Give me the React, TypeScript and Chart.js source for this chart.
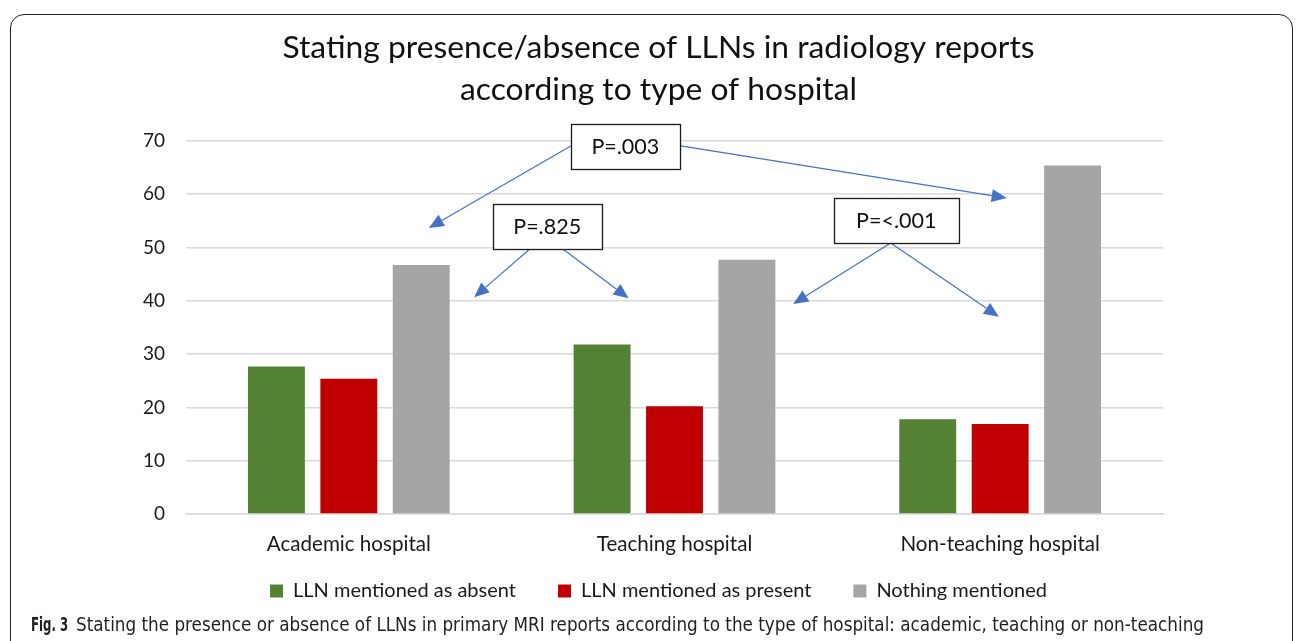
import React, { useEffect, useRef } from "react";
import { Chart, registerables } from "chart.js";

Chart.register(...registerables);

const categories = ["Academic hospital", "Teaching hospital", "Non-teaching hospital"];
const absentValues = [27.7, 31.8, 17.8];
const presentValues = [25.4, 20.2, 16.9];
const nothingValues = [46.7, 47.7, 65.4];
const seriesLabels = ["LLN mentioned as absent", "LLN mentioned as present", "Nothing mentioned"];
const yMax = 70;
const yStep = 10;

// annotation boxes: x = fractional category index, y = value
const pBoxes = [
  { label: "P=.003", x: 0.849, y: 68.97, w: 109, h: 45 },
  { label: "P=.825", x: 0.609, y: 53.95, w: 109, h: 45 },
  { label: "P=<.001", x: 1.681, y: 55.08, w: 125, h: 45 },
];
const pArrows = [
  { from: [0.6815, 69.06], to: [0.2456, 53.67] },
  { from: [1.0192, 69.06], to: [2.02, 59.3] },
  { from: [0.5556, 49.73], to: [0.385, 40.67] },
  { from: [0.657, 49.73], to: [0.859, 40.48] },
  { from: [1.6638, 50.86], to: [1.3645, 39.4] },
  { from: [1.6638, 50.86], to: [1.996, 37.0] },
];

const FONT = "Lato, 'Open Sans', sans-serif";

// keep tick labels from being clipped to the (narrowed) axis boxes
const unclipPlugin = {
  id: "unclipAxes",
  afterLayout(chart: any) {
    const { x, y } = chart.scales;
    if (y) y.left = y.right - 80;
    if (x) x.bottom = x.top + 60;
  },
};

const annotationPlugin = {
  id: "pAnnotations",
  afterDatasetsDraw(chart: any) {
    const { ctx, scales } = chart;
    const xs = scales.x;
    const ys = scales.y;
    ctx.save();
    ctx.strokeStyle = "#4472C4";
    ctx.fillStyle = "#4472C4";
    ctx.lineWidth = 1.2;
    for (const a of pArrows) {
      const x1 = xs.getPixelForValue(a.from[0]);
      const y1 = ys.getPixelForValue(a.from[1]);
      const x2 = xs.getPixelForValue(a.to[0]);
      const y2 = ys.getPixelForValue(a.to[1]);
      const ang = Math.atan2(y2 - y1, x2 - x1);
      const len = 15;
      const hw = 6.5;
      const bx = x2 - Math.cos(ang) * len;
      const by = y2 - Math.sin(ang) * len;
      ctx.beginPath();
      ctx.moveTo(x1, y1);
      ctx.lineTo(bx, by);
      ctx.stroke();
      ctx.beginPath();
      ctx.moveTo(x2, y2);
      ctx.lineTo(bx + Math.sin(ang) * hw, by - Math.cos(ang) * hw);
      ctx.lineTo(bx - Math.sin(ang) * hw, by + Math.cos(ang) * hw);
      ctx.closePath();
      ctx.fill();
    }
    for (const b of pBoxes) {
      const cx = xs.getPixelForValue(b.x);
      const cy = ys.getPixelForValue(b.y);
      const left = Math.round(cx - b.w / 2) + 0.5;
      const top = Math.round(cy - b.h / 2) + 0.5;
      ctx.fillStyle = "#ffffff";
      ctx.fillRect(left, top, b.w, b.h);
      ctx.strokeStyle = "#1a1a1a";
      ctx.lineWidth = 1.3;
      ctx.strokeRect(left, top, b.w, b.h);
      ctx.fillStyle = "#111111";
      ctx.font = `21.5px ${FONT}`;
      ctx.textAlign = "center";
      ctx.textBaseline = "middle";
      ctx.fillText(b.label, cx, cy + 1);
    }
    ctx.restore();
  },
};

export default function App() {
  const canvasRef = useRef<HTMLCanvasElement | null>(null);

  useEffect(() => {
    if (!canvasRef.current) return;
    const chart = new Chart(canvasRef.current, {
      type: "bar",
      data: {
        labels: categories,
        datasets: [
          { label: seriesLabels[0], data: absentValues, backgroundColor: "#548235" },
          { label: seriesLabels[1], data: presentValues, backgroundColor: "#C00000" },
          { label: seriesLabels[2], data: nothingValues, backgroundColor: "#A5A5A5" },
        ],
      },
      options: {
        animation: false,
        responsive: false,
        maintainAspectRatio: false,
        layout: { padding: { top: 27, left: 154, right: 137, bottom: 30 } },
        datasets: { bar: { categoryPercentage: 0.667, barPercentage: 0.786 } },
        scales: {
          x: {
            grid: { display: false },
            border: { display: true, color: "#D9D9D9", width: 1.5 },
            ticks: { color: "#1a1a1a", font: { family: FONT, size: 20.6 }, padding: 10 },
            afterFit: (s: any) => { s.height = 25; },
          },
          y: {
            min: 0,
            max: yMax,
            grid: { color: "#D9D9D9", lineWidth: 1.5, drawTicks: false },
            border: { display: false },
            ticks: { stepSize: yStep, color: "#1a1a1a", font: { family: FONT, size: 19 }, padding: 21 },
            afterFit: (s: any) => { s.width = 32; },
          },
        },
        plugins: {
          title: {
            display: true,
            text: ["Stating presence/absence of LLNs in radiology reports", "according to type of hospital"],
            color: "#111111",
            font: { family: FONT, size: 31.8, weight: "normal", lineHeight: 1.32 },
            padding: { top: 0, bottom: 30 },
          },
          legend: {
            position: "bottom",
            labels: {
              color: "#1a1a1a",
              font: { family: FONT, size: 20 },
              boxWidth: 13,
              boxHeight: 13,
              padding: 42,
            },
          },
          tooltip: { enabled: false },
        },
      },
      plugins: [unclipPlugin, annotationPlugin],
    });
    return () => chart.destroy();
  }, []);

  return (
    <div style={{ position: "absolute", left: 0, top: 0, width: 1300, height: 641, overflow: "hidden", background: "#fff" }}>
      <div
        style={{
          position: "absolute",
          left: 10,
          top: 14,
          width: 1283,
          height: 720,
          border: "1.5px solid #222",
          borderRadius: 14,
          boxSizing: "border-box",
        }}
      />
      <canvas ref={canvasRef} width={1300} height={641} style={{ position: "absolute", left: 0, top: 0 }} />
      <div
        style={{
          position: "absolute",
          left: 31,
          top: 614,
          whiteSpace: "nowrap",
          fontFamily: "'DejaVu Sans Condensed', sans-serif",
          fontSize: 18.7,
          color: "#231f20",
        }}
      >
        <span style={{ display: "inline-block", width: 45 }}>
          <b style={{ display: "inline-block", transform: "scaleX(0.7)", transformOrigin: "left center" }}>Fig. 3</b>
        </span>
        <span>
          Stating the presence or absence of LLNs in primary MRI reports according to the type of hospital: academic, teaching or non-teaching
        </span>
      </div>
    </div>
  );
}
